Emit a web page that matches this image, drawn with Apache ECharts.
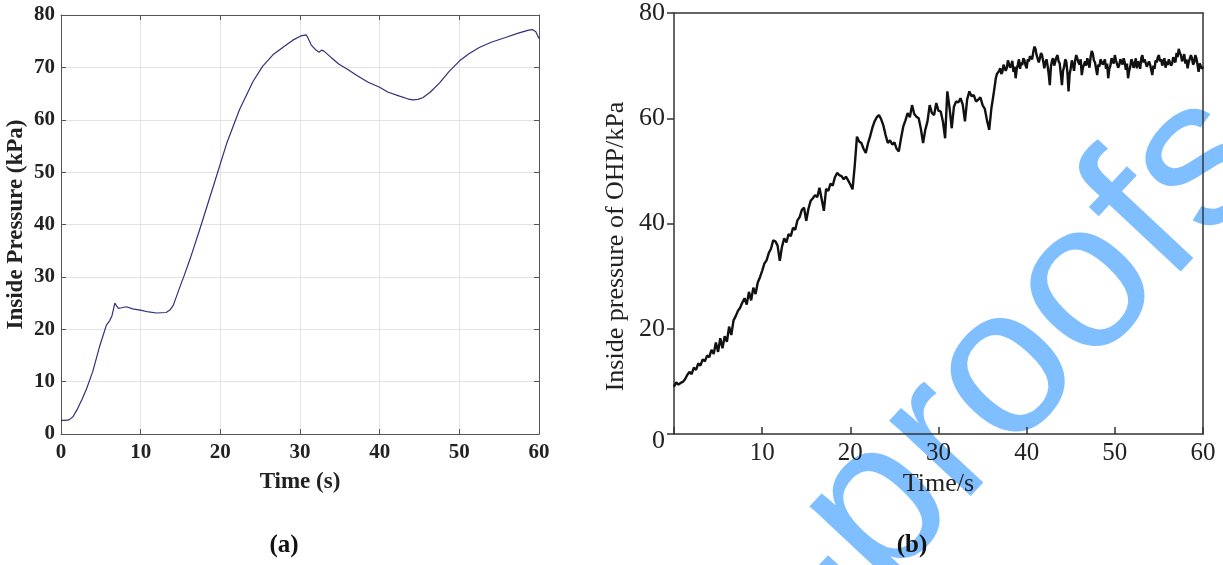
<!DOCTYPE html>
<html>
<head>
<meta charset="utf-8">
<script src="https://cdn.jsdelivr.net/npm/echarts@6/dist/echarts.min.js"></script>
<style>html,body{margin:0;padding:0;background:#fff}#c{width:1223px;height:565px}</style>
</head>
<body>
<div id="c"></div>
<script>
// ---- Panel (a): Inside Pressure (kPa) vs Time (s) ----
const timeA = [0,0.5,1.0,1.5,2.0,2.6,3.2,4.0,4.9,5.7,6.1,6.4,6.76,7.0,7.2,7.6,8.2,9.0,10.1,11.0,12.0,13.2,13.7,14.1,15.1,15.4,16.2,17.4,19.1,20.8,22.4,24.1,25.3,26.6,28.0,29.1,30.1,30.8,31.0,31.4,32.0,32.4,32.7,33.0,33.9,34.9,36.0,37.2,38.5,40.0,41.0,42.5,43.5,44.1,44.8,45.4,46.3,47.5,48.7,50.0,51.2,52.5,54.0,55.8,57.3,58.7,59.2,59.6,60.0];
const pressA = [2.6,2.6,2.7,3.3,4.6,6.5,8.6,12.0,17.0,20.8,21.6,22.6,25.0,24.4,24.0,24.1,24.3,23.9,23.6,23.3,23.1,23.2,23.7,24.6,28.8,30.0,33.4,39.0,47.2,55.5,61.9,67.3,70.2,72.4,74.0,75.2,76.0,76.2,75.6,74.3,73.3,72.9,73.3,73.1,71.9,70.6,69.6,68.4,67.2,66.2,65.3,64.5,64.0,63.8,63.9,64.2,65.2,67.0,69.2,71.2,72.6,73.8,74.8,75.7,76.5,77.1,77.2,76.8,75.5];

// ---- Panel (b): Inside pressure of OHP/kPa vs Time/s ----
const timeB = [0,0.25,0.5,0.75,1,1.25,1.5,1.75,2,2.25,2.5,2.75,3,3.25,3.5,3.75,4,4.25,4.5,4.75,5,5.25,5.5,5.75,6,6.25,6.5,6.75,7,7.25,7.5,7.75,8,8.25,8.5,8.75,9,9.25,9.5,9.75,10,10.25,10.5,10.75,11,11.25,11.5,11.75,12,12.25,12.5,12.75,13,13.25,13.5,13.75,14,14.25,14.5,14.75,15,15.25,15.5,15.75,16,16.25,16.5,16.75,17,17.25,17.5,17.75,18,18.25,18.5,18.75,19,19.25,19.5,19.75,20,20.25,20.5,20.75,21,21.25,21.5,21.75,22,22.25,22.5,22.75,23,23.25,23.5,23.75,24,24.25,24.5,24.75,25,25.25,25.5,25.75,26,26.25,26.5,26.75,27,27.25,27.5,27.75,28,28.25,28.5,28.75,29,29.25,29.5,29.75,30,30.25,30.5,30.75,31,31.25,31.5,31.75,32,32.25,32.5,32.75,33,33.25,33.5,33.75,34,34.25,34.5,34.75,35,35.25,35.5,35.75,36,36.25,
36.5,36.625,36.75,36.875,37,37.125,37.25,37.375,37.5,37.625,37.75,37.875,38,38.125,38.25,38.375,38.5,38.625,38.75,38.875,39,39.125,39.25,39.375,39.5,39.625,39.75,39.875,
40,40.125,40.25,40.375,40.5,40.625,40.75,40.875,41,41.125,41.25,41.375,41.5,41.625,41.75,41.875,42,42.125,42.25,42.375,42.5,42.625,42.75,42.875,43,43.125,43.25,43.375,43.5,43.625,43.75,43.875,44,44.125,44.25,44.375,44.5,44.625,44.75,44.875,
45,45.125,45.25,45.375,45.5,45.625,45.75,45.875,46,46.125,46.25,46.375,46.5,46.625,46.75,46.875,47,47.125,47.25,47.375,47.5,47.625,47.75,47.875,48,48.125,48.25,48.375,48.5,48.625,48.75,48.875,49,49.125,49.25,49.375,49.5,49.625,49.75,49.875,
50,50.125,50.25,50.375,50.5,50.625,50.75,50.875,51,51.125,51.25,51.375,51.5,51.625,51.75,51.875,52,52.125,52.25,52.375,52.5,52.625,52.75,52.875,53,53.125,53.25,53.375,53.5,53.625,53.75,53.875,54,54.125,54.25,54.375,54.5,54.625,54.75,54.875,
55,55.125,55.25,55.375,55.5,55.625,55.75,55.875,56,56.125,56.25,56.375,56.5,56.625,56.75,56.875,57,57.125,57.25,57.375,57.5,57.625,57.75,57.875,58,58.125,58.25,58.375,58.5,58.625,58.75,58.875,59,59.125,59.25,59.375,59.5,59.625,59.75,59.875,60];
const pressB = [9.0,9.8,9.4,9.7,9.9,10.4,11.2,11.8,11.4,12.6,12.2,13.4,13.0,14.2,13.8,14.9,14.6,16.0,15.2,17.4,15.6,18.2,16.3,18.6,17.5,20.4,18.8,21.6,22.4,23.4,24.0,25.0,25.8,24.6,27.0,25.4,27.8,26.6,28.8,29.8,31.0,32.4,33.0,34.4,35.2,36.8,36.6,35.8,32.9,35.6,37.2,36.4,38.0,37.6,39.2,38.8,40.6,41.2,42.6,43.0,40.5,42.8,44.3,44.8,45.4,45.0,46.8,44.6,42.4,46.6,46.2,47.6,47.2,48.8,49.6,49.2,49.0,48.4,48.9,48.2,47.4,46.5,51.0,56.5,55.6,55.3,54.2,53.4,55.2,56.6,58.2,59.4,60.2,60.6,59.8,58.6,56.8,55.3,55.8,55.0,55.4,54.2,53.7,56.2,58.4,59.6,61.0,60.2,62.5,60.8,60.3,60.0,58.0,55.3,57.8,59.4,62.5,61.0,60.6,62.9,61.4,61.3,59.4,56.2,65.1,62.0,58.1,62.2,63.2,63.0,63.8,62.6,59.4,63.6,65.1,64.2,64.4,63.2,63.5,64.0,62.5,61.8,59.6,57.8,61.9,64.6,
67.6,68.4,68.2,69.0,69.5,68.4,68.8,70.2,70.4,69.0,69.6,71.0,70.8,69.6,70.1,70.9,68.8,69.8,67.6,69.4,70.2,71.2,69.4,70.6,70.1,71.4,71.0,70.0,
69.5,71.2,70.8,71.8,72.0,71.2,72.6,73.6,73.2,72.0,72.2,70.6,71.4,72.4,72.0,70.8,69.5,70.6,71.2,70.0,68.4,66.3,69.8,71.0,71.4,70.0,70.2,71.6,72.0,70.8,70.4,68.4,66.3,69.0,69.8,71.2,70.7,68.6,65.1,68.4,
69.5,71.0,70.1,69.0,71.0,72.0,71.7,70.6,70.2,71.2,68.2,69.6,69.4,70.8,70.0,71.4,70.7,69.6,71.6,72.8,72.3,71.0,70.6,69.4,68.2,70.2,69.8,71.2,71.4,70.2,70.6,71.2,69.4,70.4,67.6,69.4,70.0,71.4,71.2,70.4,
72.0,71.0,70.8,69.6,70.1,71.2,71.0,70.2,71.4,70.6,69.2,70.4,67.6,69.0,69.8,71.2,70.7,69.6,70.2,71.4,69.5,70.8,70.4,69.4,71.4,72.0,70.6,71.2,71.0,69.8,69.5,70.8,70.2,69.2,68.2,70.0,69.4,71.0,70.6,71.6,
72.0,70.8,71.2,70.0,70.7,71.4,69.6,70.8,70.1,71.2,71.4,70.0,70.4,71.6,71.4,70.6,72.4,71.6,73.2,72.4,72.0,70.8,71.4,72.2,70.4,71.2,69.5,70.6,70.8,72.0,71.4,70.2,70.6,72.0,71.4,70.2,68.8,70.4,70.7,69.4,69.8];

const serif = '"Liberation Serif","Times New Roman",serif';
const chart = echarts.init(document.getElementById('c'), null, {renderer: 'canvas'});

const dataA = timeA.map((t, i) => [t, pressA[i]]);
const dataB = timeB.map((t, i) => [t, pressB[i]]);

const boxA = {lineStyle: {color: '#555', width: 1}};
const boxB = {lineStyle: {color: '#333', width: 1.5}};

chart.setOption({
  animation: false,
  backgroundColor: '#fff',
  graphic: [
    {type: 'text', z: -100, x: 1237, y: 126, rotation: 0.82,
     style: {text: 'Journal Pre-proofs', fontSize: 210, fontFamily: '"Liberation Sans",Arial,sans-serif',
             fill: '#80bfff', align: 'right', verticalAlign: 'middle'}},
    {type: 'text', x: 284, y: 546, style: {text: '(a)', fontSize: 25, fontWeight: 'bold', fontFamily: serif, fill: '#111', align: 'center', verticalAlign: 'middle'}},
    {type: 'text', x: 912, y: 546, style: {text: '(b)', fontSize: 25, fontWeight: 'bold', fontFamily: serif, fill: '#111', align: 'center', verticalAlign: 'middle'}}
  ],
  grid: [
    {left: 61, top: 15, width: 478, height: 419},
    {left: 674, top: 11, width: 529, height: 423}
  ],
  xAxis: [
    {type: 'value', gridIndex: 0, position: 'bottom', min: 0, max: 60, interval: 10,
     axisLine: {onZero: false, ...boxA}, axisTick: {inside: true, length: 5, lineStyle: {color: '#555'}},
     splitLine: {show: true, lineStyle: {color: '#e3e3e3', width: 1}},
     axisLabel: {margin: 8, fontFamily: serif, fontWeight: 'bold', fontSize: 21, color: '#222'},
     name: 'Time (s)', nameLocation: 'middle', nameGap: 37,
     nameTextStyle: {fontFamily: serif, fontWeight: 'bold', fontSize: 23, color: '#222'}},
    {type: 'value', gridIndex: 0, position: 'top', min: 0, max: 60, interval: 10,
     axisLine: {onZero: false, ...boxA}, axisTick: {inside: true, length: 5, lineStyle: {color: '#555'}},
     splitLine: {show: false}, axisLabel: {show: false}},
    {type: 'value', gridIndex: 1, position: 'bottom', min: 0, max: 60, interval: 10,
     axisLine: {onZero: false, ...boxB}, axisTick: {inside: true, length: 7, lineStyle: {color: '#333', width: 1.5}},
     splitLine: {show: false},
     axisLabel: {margin: 7, fontFamily: serif, fontSize: 25, color: '#222', formatter: v => v === 0 ? '' : String(v)},
     name: 'Time/s', nameLocation: 'middle', nameGap: 35,
     nameTextStyle: {fontFamily: serif, fontSize: 26, color: '#222'}},
    {type: 'value', gridIndex: 1, position: 'top', min: 0, max: 60,
     axisLine: {onZero: false, ...boxB}, axisTick: {show: false},
     splitLine: {show: false}, axisLabel: {show: false}}
  ],
  yAxis: [
    {type: 'value', gridIndex: 0, position: 'left', min: 0, max: 80, interval: 10,
     axisLine: {show: true, onZero: false, ...boxA}, axisTick: {show: true, inside: true, length: 5, lineStyle: {color: '#555'}},
     splitLine: {show: true, lineStyle: {color: '#e3e3e3', width: 1}},
     axisLabel: {margin: 6, fontFamily: serif, fontWeight: 'bold', fontSize: 21, color: '#222'},
     name: 'Inside Pressure (kPa)', nameLocation: 'middle', nameGap: 33, nameRotate: 90,
     nameTextStyle: {fontFamily: serif, fontWeight: 'bold', fontSize: 23, color: '#222'}},
    {type: 'value', gridIndex: 0, position: 'right', min: 0, max: 80, interval: 10,
     axisLine: {show: true, onZero: false, ...boxA}, axisTick: {show: true, inside: true, length: 5, lineStyle: {color: '#555'}},
     splitLine: {show: false}, axisLabel: {show: false}},
    {type: 'value', gridIndex: 1, position: 'left', min: 0, max: 80, interval: 20,
     axisLine: {show: true, onZero: false, ...boxB}, axisTick: {show: true, inside: false, length: 7, lineStyle: {color: '#333', width: 1.5}},
     splitLine: {show: false},
     axisLabel: {margin: 9, fontFamily: serif, fontSize: 26, color: '#222',
                 formatter: v => v === 0 ? '{z|0}' : String(v),
                 rich: {z: {fontFamily: serif, fontSize: 26, color: '#222', padding: [14, 0, 0, 0]}}},
     name: 'Inside pressure of OHP/kPa', nameLocation: 'middle', nameGap: 45, nameRotate: 90,
     nameTextStyle: {fontFamily: serif, fontSize: 26, color: '#222', padding: [0, 46, 0, 0]}},
    {type: 'value', gridIndex: 1, position: 'right', min: 0, max: 80, interval: 20,
     axisLine: {show: true, onZero: false, ...boxB}, axisTick: {show: false},
     splitLine: {show: false}, axisLabel: {show: false}}
  ],
  series: [
    {type: 'line', xAxisIndex: 0, yAxisIndex: 0, data: dataA, showSymbol: false, symbol: 'none',
     lineStyle: {color: '#30307a', width: 1.2}, z: 5},
    {type: 'line', xAxisIndex: 2, yAxisIndex: 2, data: dataB, showSymbol: false, symbol: 'none',
     lineStyle: {color: '#111', width: 2.4}, z: 5}
  ]
});
</script>
</body>
</html>
